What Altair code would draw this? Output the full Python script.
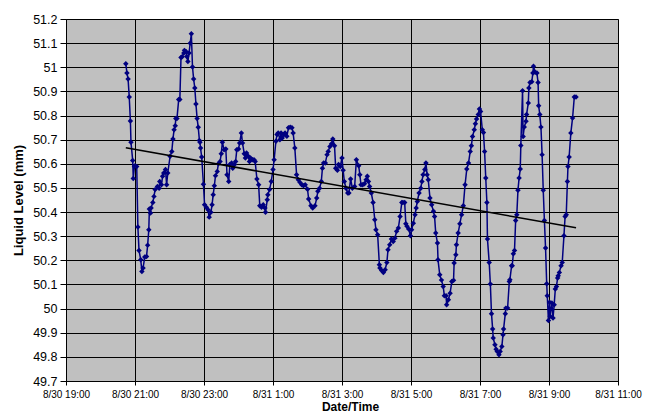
import altair as alt
import pandas as pd

# Minutes elapsed since 8/30 19:00 for every reading
minutes_after_start = [
    104, 106, 108, 110, 112, 113, 116, 117, 119, 120, 123, 125, 127, 130, 132, 134, 137, 140, 142, 144,
    145, 147, 148, 151, 153, 155, 159, 162, 163, 166, 168, 170, 173, 175, 177, 181, 184, 186, 188, 190,
    191, 193, 196, 198, 200, 202, 205, 206, 209, 210, 212, 214, 216, 218, 220, 222, 224, 226, 228, 230,
    232, 233, 234, 236, 239, 241, 244, 247, 249, 252, 254, 256, 258, 260, 263, 265, 268, 270, 272, 275,
    278, 280, 283, 285, 288, 290, 293, 295, 297, 300, 302, 305, 307, 310, 312, 314, 317, 319, 321, 324,
    327, 329, 332, 335, 337, 340, 343, 346, 347, 350, 351, 354, 357, 360, 362, 365, 367, 369, 372, 374,
    376, 379, 381, 384, 387, 390, 393, 395, 398, 401, 404, 407, 410, 413, 416, 420, 422, 426, 429, 433,
    436, 438, 441, 444, 446, 448, 451, 454, 456, 459, 462, 464, 467, 469, 472, 474, 477, 480, 482, 484,
    487, 490, 492, 495, 498, 502, 505, 509, 511, 513, 516, 519, 522, 524, 526, 528, 531, 534, 537, 539,
    542, 545, 546, 549, 552, 555, 558, 560, 563, 566, 569, 572, 575, 578, 581, 584, 586, 589, 591, 593,
    596, 599, 601, 604, 607, 609, 611, 614, 617, 619, 621, 624, 626, 628, 630, 633, 636, 639, 641, 643,
    646, 647, 650, 653, 656, 658, 661, 662, 665, 668, 671, 674, 675, 678, 679, 682, 685, 688, 691, 694,
    697, 700, 703, 705, 707, 710, 712, 714, 717, 719, 721, 724, 726, 728, 730, 732, 733, 736, 738, 740,
    742, 743, 746, 748, 750, 753, 755, 758, 760, 761, 764, 765, 768, 771, 772, 775, 776, 778, 780, 782,
    784, 786, 788, 790, 791, 794, 795, 797, 800, 801, 804, 805, 807, 810, 812, 813, 816, 819, 821, 822,
    824, 826, 828, 830, 832, 834, 836, 837, 839, 841, 842, 845, 847, 849, 851, 853, 855, 856, 858, 861,
    863, 866, 868, 870, 872, 873, 875, 878, 881, 884, 887,
]

# Liquid level (mm) for each reading
liquid_level = [
    51.015, 50.976, 50.951, 50.877, 50.777, 50.689, 50.614, 50.539, 50.589, 50.592, 50.589, 50.338, 50.241, 50.202, 50.154, 50.168, 50.214, 50.216, 50.263, 50.327,
    50.413, 50.396, 50.417, 50.440, 50.465, 50.493, 50.506, 50.499, 50.527, 50.513, 50.548, 50.562, 50.576, 50.513, 50.562, 50.631, 50.651, 50.703, 50.741, 50.758,
    50.788, 50.788, 50.866, 50.866, 51.040, 51.044, 51.059, 51.070, 51.064, 51.045, 51.024, 51.059, 51.100, 51.139, 51.001, 50.951, 50.914, 50.848, 50.788, 50.751,
    50.697, 50.689, 50.665, 50.628, 50.515, 50.430, 50.420, 50.410, 50.379, 50.399, 50.430, 50.472, 50.509, 50.551, 50.568, 50.600, 50.610, 50.642, 50.689, 50.658,
    50.661, 50.555, 50.527, 50.597, 50.603, 50.582, 50.597, 50.610, 50.658, 50.661, 50.686, 50.728, 50.686, 50.642, 50.624, 50.645, 50.631, 50.610, 50.624, 50.617,
    50.617, 50.610, 50.537, 50.513, 50.426, 50.420, 50.430, 50.417, 50.399, 50.451, 50.472, 50.493, 50.527, 50.576, 50.617, 50.693, 50.721, 50.728, 50.700, 50.728,
    50.707, 50.721, 50.728, 50.714, 50.749, 50.752, 50.749, 50.728, 50.665, 50.555, 50.534, 50.523, 50.513, 50.509, 50.513, 50.495, 50.454, 50.426, 50.417, 50.426,
    50.458, 50.486, 50.499, 50.527, 50.582, 50.603, 50.603, 50.638, 50.651, 50.672, 50.683, 50.703, 50.675, 50.582, 50.573, 50.597, 50.589, 50.624, 50.573, 50.527,
    50.499, 50.479, 50.479, 50.537, 50.499, 50.506, 50.617, 50.592, 50.555, 50.513, 50.513, 50.517, 50.534, 50.548, 50.527, 50.506, 50.479, 50.440, 50.368, 50.327,
    50.306, 50.182, 50.168, 50.158, 50.150, 50.161, 50.191, 50.244, 50.265, 50.288, 50.278, 50.292, 50.320, 50.334, 50.382, 50.440, 50.440, 50.440, 50.352, 50.341,
    50.330, 50.302, 50.327, 50.354, 50.389, 50.417, 50.444, 50.479, 50.499, 50.527, 50.555, 50.576, 50.603, 50.555, 50.534, 50.458, 50.430, 50.403, 50.382, 50.313,
    50.272, 50.202, 50.140, 50.118, 50.092, 50.053, 50.053, 50.016, 50.037, 50.064, 50.112, 50.117, 50.189, 50.223, 50.265, 50.313, 50.352, 50.389, 50.426, 50.513,
    50.578, 50.603, 50.651, 50.675, 50.713, 50.741, 50.766, 50.786, 50.804, 50.827, 50.817, 50.741, 50.730, 50.651, 50.541, 50.440, 50.288, 50.191, 50.102, 49.979,
    49.915, 49.878, 49.850, 49.832, 49.822, 49.809, 49.822, 49.843, 49.892, 49.915, 49.979, 50.002, 50.002, 50.112, 50.120, 50.178, 50.178, 50.227, 50.241, 50.365,
    50.389, 50.490, 50.541, 50.578, 50.676, 50.903, 50.713, 50.752, 50.776, 50.804, 50.852, 50.914, 50.937, 50.940, 50.976, 51.004, 50.979, 50.976, 50.937, 50.841,
    50.804, 50.752, 50.638, 50.490, 50.365, 50.251, 50.103, 50.053, 49.951, 50.026, 49.968, 50.023, 49.961, 50.016, 50.081, 50.092, 50.127, 50.136, 50.150, 50.178,
    50.191, 50.302, 50.382, 50.389, 50.527, 50.589, 50.628, 50.728, 50.790, 50.877, 50.877,
]

start_time = "2007-08-30 19:00"
y_ticks = [49.7, 49.8, 49.9, 50.0, 50.1, 50.2, 50.3, 50.4, 50.5, 50.6, 50.7, 50.8, 50.9, 51.0, 51.1, 51.2]
x_tick_hours = [(30, 19), (30, 21), (30, 23), (31, 1), (31, 3), (31, 5), (31, 7), (31, 9), (31, 11)]

df = pd.DataFrame({
    "time": pd.Timestamp(start_time) + pd.to_timedelta(minutes_after_start, unit="min"),
    "level": liquid_level,
})

x_ticks = [alt.DateTime(year=2007, month=8, date=d, hours=h) for d, h in x_tick_hours]

x_enc = alt.X(
    "time:T",
    scale=alt.Scale(domain=[x_ticks[0], x_ticks[-1]], nice=False),
    axis=alt.Axis(
        values=x_ticks,
        tickCount=len(x_ticks),
        format="%-m/%-d %-H:%M",
        title="Date/Time",
        labelFontSize=10,
        labelPadding=4,
        labelOverlap=False,
        labelFlush=False,
        tickSize=4,
        titleFontSize=12,
        titleFontWeight="bold",
        titleX=284,
        titleY=25,
        titleBaseline="middle",
        titleAlign="center",
        grid=True,
    ),
)
y_enc = alt.Y(
    "level:Q",
    scale=alt.Scale(domain=[49.7, 51.2], nice=False, zero=False),
    axis=alt.Axis(
        values=y_ticks,
        tickCount=len(y_ticks),
        format="~g",
        title="Liquid Level (mm)",
        labelFontSize=12.5,
        labelPadding=3,
        labelOverlap=False,
        labelFlush=False,
        tickSize=6,
        titleFontSize=13,
        titleFontWeight="bold",
        titleX=-48,
        titleY=181,
        titleBaseline="middle",
        titleAlign="center",
        grid=True,
    ),
)

base = alt.Chart(df)

line = base.mark_line(color="#000080", strokeWidth=1.5).encode(x=x_enc, y=y_enc)
pts = base.mark_point(shape="diamond", filled=True, color="#000080", size=30, opacity=1).encode(x="time:T", y="level:Q")
trend = base.transform_regression("time", "level").mark_line(color="black", strokeWidth=1.6).encode(
    x="time:T", y="level:Q"
)

chart = (
    alt.layer(line, pts, trend)
    .properties(
        width=552,
        height=362,
        autosize=alt.AutoSizeParams(type="none"),
        padding={"left": 58, "top": 11, "right": 28, "bottom": 31},
        background="white",
    )
    .configure_view(fill="#C0C0C0", stroke="#808080", strokeWidth=1)
    .configure_axis(
        gridColor="black",
        gridOpacity=1,
        gridWidth=1,
        domainColor="black",
        tickColor="black",
        labelColor="black",
        titleColor="black",
        labelFont="Liberation Sans",
        titleFont="Liberation Sans",
    )
)

chart.save("out.html", embed_options={"renderer": "svg", "actions": False})
